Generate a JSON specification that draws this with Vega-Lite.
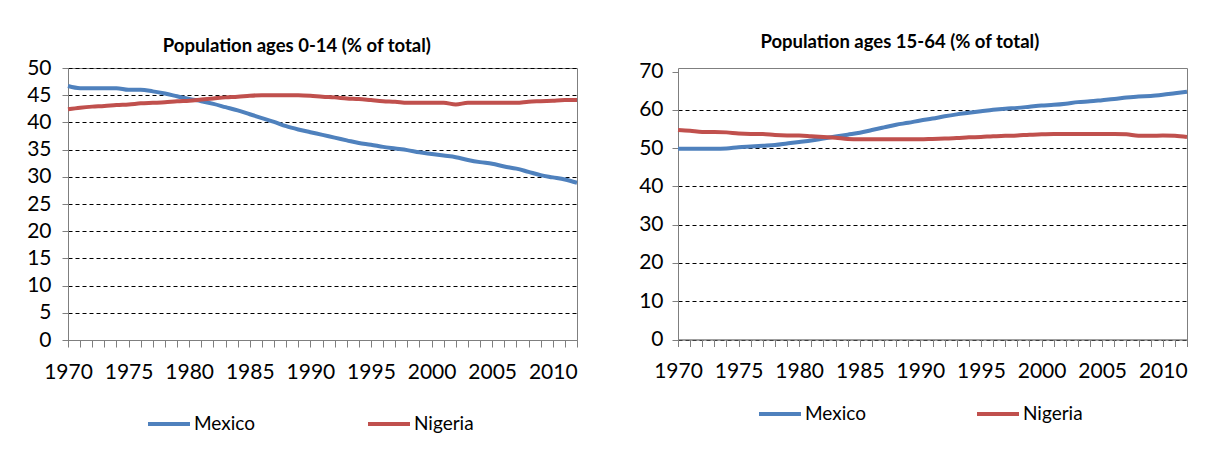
{
  "$schema": "https://vega.github.io/schema/vega-lite/v6.json",
  "padding": {"left": 26, "top": 32, "right": 5, "bottom": 5},
  "background": "white",
  "spacing": 52,
  "datasets": {
    "young": [
      {"year":1970,"country":"Mexico","pct":46.7},{"year":1971,"country":"Mexico","pct":46.3},{"year":1972,"country":"Mexico","pct":46.3},{"year":1973,"country":"Mexico","pct":46.3},{"year":1974,"country":"Mexico","pct":46.3},{"year":1975,"country":"Mexico","pct":46.0},{"year":1976,"country":"Mexico","pct":46.0},{"year":1977,"country":"Mexico","pct":45.7},{"year":1978,"country":"Mexico","pct":45.3},{"year":1979,"country":"Mexico","pct":44.8},{"year":1980,"country":"Mexico","pct":44.3},{"year":1981,"country":"Mexico","pct":43.9},{"year":1982,"country":"Mexico","pct":43.4},{"year":1983,"country":"Mexico","pct":42.8},{"year":1984,"country":"Mexico","pct":42.2},{"year":1985,"country":"Mexico","pct":41.5},{"year":1986,"country":"Mexico","pct":40.8},{"year":1987,"country":"Mexico","pct":40.1},{"year":1988,"country":"Mexico","pct":39.3},{"year":1989,"country":"Mexico","pct":38.7},{"year":1990,"country":"Mexico","pct":38.2},{"year":1991,"country":"Mexico","pct":37.7},{"year":1992,"country":"Mexico","pct":37.2},{"year":1993,"country":"Mexico","pct":36.7},{"year":1994,"country":"Mexico","pct":36.2},{"year":1995,"country":"Mexico","pct":35.9},{"year":1996,"country":"Mexico","pct":35.5},{"year":1997,"country":"Mexico","pct":35.2},{"year":1998,"country":"Mexico","pct":34.9},{"year":1999,"country":"Mexico","pct":34.5},{"year":2000,"country":"Mexico","pct":34.2},{"year":2001,"country":"Mexico","pct":33.9},{"year":2002,"country":"Mexico","pct":33.6},{"year":2003,"country":"Mexico","pct":33.1},{"year":2004,"country":"Mexico","pct":32.7},{"year":2005,"country":"Mexico","pct":32.4},{"year":2006,"country":"Mexico","pct":31.9},{"year":2007,"country":"Mexico","pct":31.5},{"year":2008,"country":"Mexico","pct":30.9},{"year":2009,"country":"Mexico","pct":30.3},{"year":2010,"country":"Mexico","pct":29.9},{"year":2011,"country":"Mexico","pct":29.5},{"year":2012,"country":"Mexico","pct":28.9},
      {"year":1970,"country":"Nigeria","pct":42.4},{"year":1971,"country":"Nigeria","pct":42.7},{"year":1972,"country":"Nigeria","pct":42.9},{"year":1973,"country":"Nigeria","pct":43.0},{"year":1974,"country":"Nigeria","pct":43.2},{"year":1975,"country":"Nigeria","pct":43.3},{"year":1976,"country":"Nigeria","pct":43.5},{"year":1977,"country":"Nigeria","pct":43.6},{"year":1978,"country":"Nigeria","pct":43.7},{"year":1979,"country":"Nigeria","pct":43.9},{"year":1980,"country":"Nigeria","pct":44.0},{"year":1981,"country":"Nigeria","pct":44.2},{"year":1982,"country":"Nigeria","pct":44.4},{"year":1983,"country":"Nigeria","pct":44.6},{"year":1984,"country":"Nigeria","pct":44.7},{"year":1985,"country":"Nigeria","pct":44.9},{"year":1986,"country":"Nigeria","pct":45.0},{"year":1987,"country":"Nigeria","pct":45.0},{"year":1988,"country":"Nigeria","pct":45.0},{"year":1989,"country":"Nigeria","pct":45.0},{"year":1990,"country":"Nigeria","pct":44.9},{"year":1991,"country":"Nigeria","pct":44.7},{"year":1992,"country":"Nigeria","pct":44.6},{"year":1993,"country":"Nigeria","pct":44.4},{"year":1994,"country":"Nigeria","pct":44.3},{"year":1995,"country":"Nigeria","pct":44.1},{"year":1996,"country":"Nigeria","pct":43.9},{"year":1997,"country":"Nigeria","pct":43.8},{"year":1998,"country":"Nigeria","pct":43.6},{"year":1999,"country":"Nigeria","pct":43.6},{"year":2000,"country":"Nigeria","pct":43.6},{"year":2001,"country":"Nigeria","pct":43.6},{"year":2002,"country":"Nigeria","pct":43.3},{"year":2003,"country":"Nigeria","pct":43.6},{"year":2004,"country":"Nigeria","pct":43.6},{"year":2005,"country":"Nigeria","pct":43.6},{"year":2006,"country":"Nigeria","pct":43.6},{"year":2007,"country":"Nigeria","pct":43.6},{"year":2008,"country":"Nigeria","pct":43.8},{"year":2009,"country":"Nigeria","pct":43.9},{"year":2010,"country":"Nigeria","pct":44.0},{"year":2011,"country":"Nigeria","pct":44.1},{"year":2012,"country":"Nigeria","pct":44.1}
    ],
    "working": [
      {"year":1970,"country":"Mexico","pct":49.8},{"year":1971,"country":"Mexico","pct":49.8},{"year":1972,"country":"Mexico","pct":49.8},{"year":1973,"country":"Mexico","pct":49.8},{"year":1974,"country":"Mexico","pct":49.9},{"year":1975,"country":"Mexico","pct":50.2},{"year":1976,"country":"Mexico","pct":50.4},{"year":1977,"country":"Mexico","pct":50.6},{"year":1978,"country":"Mexico","pct":50.8},{"year":1979,"country":"Mexico","pct":51.2},{"year":1980,"country":"Mexico","pct":51.6},{"year":1981,"country":"Mexico","pct":52.0},{"year":1982,"country":"Mexico","pct":52.5},{"year":1983,"country":"Mexico","pct":53.0},{"year":1984,"country":"Mexico","pct":53.5},{"year":1985,"country":"Mexico","pct":54.0},{"year":1986,"country":"Mexico","pct":54.7},{"year":1987,"country":"Mexico","pct":55.4},{"year":1988,"country":"Mexico","pct":56.1},{"year":1989,"country":"Mexico","pct":56.6},{"year":1990,"country":"Mexico","pct":57.2},{"year":1991,"country":"Mexico","pct":57.7},{"year":1992,"country":"Mexico","pct":58.3},{"year":1993,"country":"Mexico","pct":58.8},{"year":1994,"country":"Mexico","pct":59.2},{"year":1995,"country":"Mexico","pct":59.6},{"year":1996,"country":"Mexico","pct":60.0},{"year":1997,"country":"Mexico","pct":60.3},{"year":1998,"country":"Mexico","pct":60.5},{"year":1999,"country":"Mexico","pct":60.8},{"year":2000,"country":"Mexico","pct":61.1},{"year":2001,"country":"Mexico","pct":61.3},{"year":2002,"country":"Mexico","pct":61.6},{"year":2003,"country":"Mexico","pct":62.0},{"year":2004,"country":"Mexico","pct":62.2},{"year":2005,"country":"Mexico","pct":62.5},{"year":2006,"country":"Mexico","pct":62.8},{"year":2007,"country":"Mexico","pct":63.2},{"year":2008,"country":"Mexico","pct":63.5},{"year":2009,"country":"Mexico","pct":63.6},{"year":2010,"country":"Mexico","pct":63.9},{"year":2011,"country":"Mexico","pct":64.3},{"year":2012,"country":"Mexico","pct":64.7},
      {"year":1970,"country":"Nigeria","pct":54.7},{"year":1971,"country":"Nigeria","pct":54.5},{"year":1972,"country":"Nigeria","pct":54.2},{"year":1973,"country":"Nigeria","pct":54.2},{"year":1974,"country":"Nigeria","pct":54.1},{"year":1975,"country":"Nigeria","pct":53.8},{"year":1976,"country":"Nigeria","pct":53.7},{"year":1977,"country":"Nigeria","pct":53.7},{"year":1978,"country":"Nigeria","pct":53.4},{"year":1979,"country":"Nigeria","pct":53.3},{"year":1980,"country":"Nigeria","pct":53.3},{"year":1981,"country":"Nigeria","pct":53.1},{"year":1982,"country":"Nigeria","pct":52.9},{"year":1983,"country":"Nigeria","pct":52.7},{"year":1984,"country":"Nigeria","pct":52.4},{"year":1985,"country":"Nigeria","pct":52.3},{"year":1986,"country":"Nigeria","pct":52.3},{"year":1987,"country":"Nigeria","pct":52.3},{"year":1988,"country":"Nigeria","pct":52.3},{"year":1989,"country":"Nigeria","pct":52.3},{"year":1990,"country":"Nigeria","pct":52.3},{"year":1991,"country":"Nigeria","pct":52.4},{"year":1992,"country":"Nigeria","pct":52.5},{"year":1993,"country":"Nigeria","pct":52.6},{"year":1994,"country":"Nigeria","pct":52.8},{"year":1995,"country":"Nigeria","pct":52.9},{"year":1996,"country":"Nigeria","pct":53.1},{"year":1997,"country":"Nigeria","pct":53.2},{"year":1998,"country":"Nigeria","pct":53.3},{"year":1999,"country":"Nigeria","pct":53.5},{"year":2000,"country":"Nigeria","pct":53.6},{"year":2001,"country":"Nigeria","pct":53.7},{"year":2002,"country":"Nigeria","pct":53.7},{"year":2003,"country":"Nigeria","pct":53.7},{"year":2004,"country":"Nigeria","pct":53.7},{"year":2005,"country":"Nigeria","pct":53.7},{"year":2006,"country":"Nigeria","pct":53.7},{"year":2007,"country":"Nigeria","pct":53.6},{"year":2008,"country":"Nigeria","pct":53.2},{"year":2009,"country":"Nigeria","pct":53.2},{"year":2010,"country":"Nigeria","pct":53.3},{"year":2011,"country":"Nigeria","pct":53.2},{"year":2012,"country":"Nigeria","pct":52.9}
    ]
  },
  "config": {
    "font": "Lato",
    "view": {"stroke": "#7f7f7f", "strokeWidth": 1},
    "axis": {
      "labelFont": "Lato",
      "labelFontSize": 21,
      "labelColor": "#000000",
      "domainColor": "#7f7f7f",
      "tickColor": "#7f7f7f",
      "title": null
    },
    "title": {"font": "Lato", "fontSize": 18.5, "fontWeight": "bold", "color": "#000000", "anchor": "middle", "frame": "bounds"},
    "legend": {
      "labelFont": "Lato",
      "labelFontSize": 19,
      "labelColor": "#000000",
      "symbolType": "stroke",
      "symbolSize": 1764,
      "symbolStrokeWidth": 4,
      "labelOffset": 2,
      "direction": "horizontal",
      "orient": "none",
      "title": null
    }
  },
  "resolve": {"legend": {"color": "independent"}},
  "hconcat": [
    {
      "title": {"text": "Population ages 0-14 (% of total)", "offset": 1.5, "dx": -9},
      "width": 509,
      "height": 272,
      "data": {"name": "young"},
      "mark": {"type": "line", "strokeWidth": 4, "interpolate": "monotone"},
      "encoding": {
        "x": {"field": "year", "type": "quantitative",
          "scale": {"domain": [1970, 2012], "nice": false, "zero": false},
          "axis": {"values": [1970,1971,1972,1973,1974,1975,1976,1977,1978,1979,1980,1981,1982,1983,1984,1985,1986,1987,1988,1989,1990,1991,1992,1993,1994,1995,1996,1997,1998,1999,2000,2001,2002,2003,2004,2005,2006,2007,2008,2009,2010,2011,2012],
            "format": "d", "labelExpr": "datum.value % 5 === 0 ? datum.label : ''", "labelOverlap": false, "labelFlush": false,
            "grid": false, "tickSize": 7, "labelPadding": 14}},
        "y": {"field": "pct", "type": "quantitative",
          "scale": {"domain": [0, 50], "nice": false},
          "axis": {"values": [0,5,10,15,20,25,30,35,40,45,50], "grid": true, "gridDash": [4,3], "gridColor": "#000000", "gridWidth": 1.2, "tickSize": 6, "labelPadding": 11}},
        "color": {"field": "country", "type": "nominal",
          "scale": {"domain": ["Mexico", "Nigeria"], "range": ["#4f81bd", "#c0504d"]},
          "legend": {"legendX": 78, "legendY": 333, "columnPadding": 105}}
      }
    },
    {
      "title": {"text": "Population ages 15-64 (% of total)", "offset": 9, "dx": -17},
      "width": 509,
      "height": 271.5,
      "data": {"name": "working"},
      "mark": {"type": "line", "strokeWidth": 4, "interpolate": "monotone"},
      "encoding": {
        "x": {"field": "year", "type": "quantitative",
          "scale": {"domain": [1970, 2012], "nice": false, "zero": false},
          "axis": {"values": [1970,1971,1972,1973,1974,1975,1976,1977,1978,1979,1980,1981,1982,1983,1984,1985,1986,1987,1988,1989,1990,1991,1992,1993,1994,1995,1996,1997,1998,1999,2000,2001,2002,2003,2004,2005,2006,2007,2008,2009,2010,2011,2012],
            "format": "d", "labelExpr": "datum.value % 5 === 0 ? datum.label : ''", "labelOverlap": false, "labelFlush": false,
            "grid": false, "tickSize": 7, "labelPadding": 14}},
        "y": {"field": "pct", "type": "quantitative",
          "scale": {"domain": [0, 70], "nice": false, "range": [271.5, 3.5]},
          "axis": {"values": [0,10,20,30,40,50,60,70], "grid": true, "gridDash": [4,3], "gridColor": "#000000", "gridWidth": 1.2,
            "gridOpacity": {"condition": {"test": "datum.value === 70", "value": 0}, "value": 1},
            "tickSize": 6, "labelPadding": 9}},
        "color": {"field": "country", "type": "nominal",
          "scale": {"domain": ["Mexico", "Nigeria"], "range": ["#4f81bd", "#c0504d"]},
          "legend": {"legendX": 79, "legendY": 323, "columnPadding": 103}}
      }
    }
  ]
}
